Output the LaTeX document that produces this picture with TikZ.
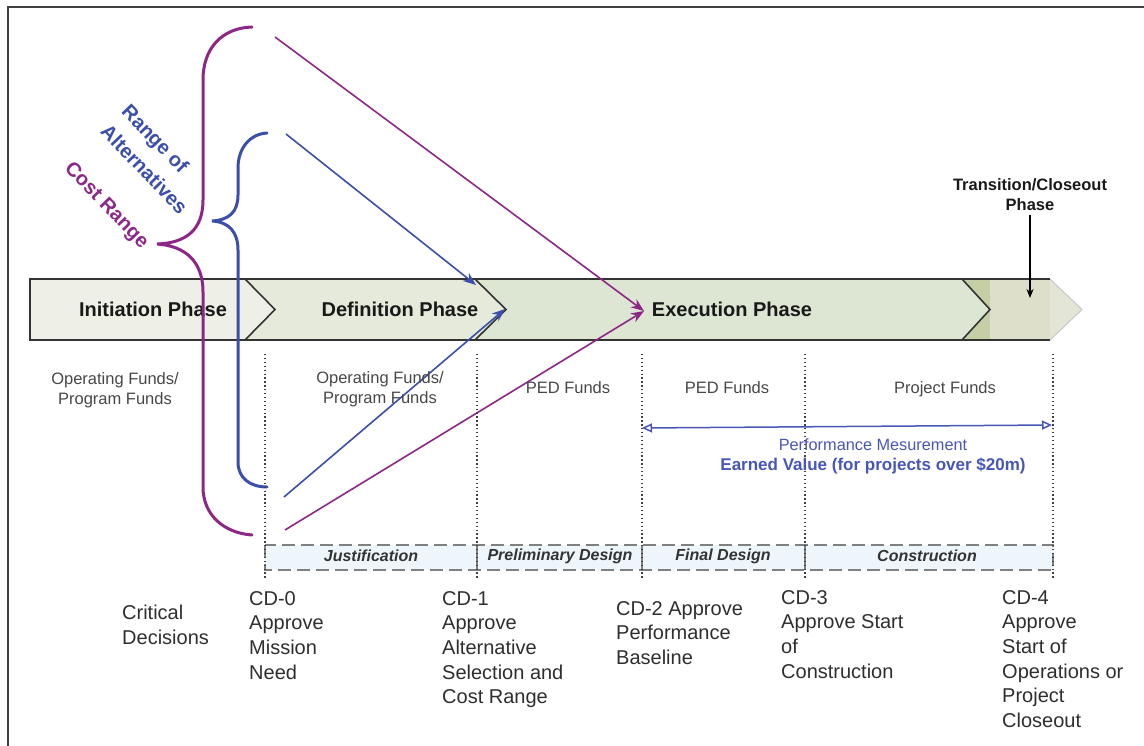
\documentclass[tikz,border=0pt]{standalone}
\usepackage{fontspec}
\setmainfont{Liberation Sans}
\usetikzlibrary{arrows.meta}
\definecolor{purp}{RGB}{140,38,135}
\definecolor{bluec}{RGB}{58,78,170}
\definecolor{pmblue}{RGB}{72,86,184}
\definecolor{initfill}{RGB}{238,240,232}
\definecolor{deffill}{RGB}{229,234,219}
\definecolor{exefill}{RGB}{221,230,211}
\definecolor{stripfill}{RGB}{197,207,166}
\definecolor{transfill}{RGB}{221,223,202}
\definecolor{tipfill}{RGB}{227,230,214}
\definecolor{segfill}{RGB}{238,246,251}
\begin{document}
\begin{tikzpicture}[x=1pt,y=-1pt,
  brace/.style={line width=3pt,line cap=round},
  ray/.style={line width=1.6pt,-{Stealth[length=13pt,width=10pt]}},
  phase/.style={font=\fontsize{20}{24}\selectfont\bfseries,text=black!90},
  funds/.style={font=\fontsize{16.5}{19.5}\selectfont,text=black!72,align=center},
  seg/.style={font=\fontsize{16}{18}\selectfont\bfseries\itshape,text=black!80},
  cd/.style={font=\fontsize{20}{24.7}\selectfont,text=black!82,align=left,anchor=north west,inner sep=0pt},
  dotline/.style={black!75,line width=1.3pt,dash pattern=on 1.3pt off 2.6pt},
  rangelbl/.style={font=\fontsize{20}{29}\selectfont\bfseries,rotate=-46,align=left,inner sep=0pt}]
\useasboundingbox (0,0) rectangle (1144,746);
% frame
\draw[line width=2.5pt,black!75] (8,746) -- (8,7) -- (1144,7);

% phase band
\fill[initfill] (30,279) -- (245,279) -- (275,309.5) -- (245,340) -- (30,340) -- cycle;
\fill[deffill] (245,279) -- (475,279) -- (506,309.5) -- (475,340) -- (245,340) -- (275,309.5) -- cycle;
\fill[exefill] (475,279) -- (962,279) -- (990,309.5) -- (962,340) -- (475,340) -- (506,309.5) -- cycle;
\fill[stripfill] (962,279) -- (990,279) -- (990,340) -- (962,340) -- (990,309.5) -- cycle;
\fill[transfill] (990,279) rectangle (1050,340);
\filldraw[tipfill,draw=black!22,line width=1pt] (1050,279) -- (1082,309.5) -- (1050,340);
\draw[line width=1.6pt,black!80] (1050,279) -- (30,279) -- (30,340) -- (1050,340);
\draw[line width=1.6pt,black!80] (245,279) -- (275,309.5) -- (245,340)
  (475,279) -- (506,309.5) -- (475,340) (962,279) -- (990,309.5) -- (962,340);
\node[phase] (init) at (153,309) {Initiation Phase};
\node[phase] (defn) at (400,309) {Definition Phase};
\node[phase] (exec) at (732,309) {Execution Phase};
\node[phase,font=\fontsize{16.5}{20}\selectfont\bfseries,align=center] (trans) at (1030,195) {Transition/Closeout\\Phase};
\coordinate (transpt) at (1030,298);
\draw[line width=1.1pt,-{Stealth[length=9pt,width=7pt]}] (trans.south) -- (transpt);

% braces
\draw[brace,purp] (252,27) .. controls (222,28) and (203,48) .. (203,80) -- (203,200)
  .. controls (203,230) and (186,243) .. (157,244) .. controls (186,246) and (203,262) .. (203,292)
  -- (203,487) .. controls (203,515) and (224,533) .. (252,535);
\draw[brace,bluec] (267,133) .. controls (250,134) and (238,148) .. (238,168) -- (238,195)
  .. controls (238,212) and (229,220) .. (212,221) .. controls (229,222) and (238,232) .. (238,250)
  -- (238,462) .. controls (238,478) and (250,487) .. (267,487);
\node[rangelbl,text=bluec] (alts) at (155,159) {Range of\\Alternatives};
\node[rangelbl,text=purp] (cost) at (106,206) {Cost Range};

% rays
\coordinate (pTop) at (275,37);
\coordinate (pBot) at (285,530);
\coordinate (bTop) at (286,134);
\coordinate (bBot) at (284,497);
\coordinate (exeIn) at (644,311);
\coordinate (defNotch) at (476,285);
\coordinate (defTip) at (505,309);
\draw[ray,purp] (pTop) -- (exeIn);
\draw[ray,purp] (pBot) -- (exeIn);
\draw[ray,bluec] (bTop) -- (defNotch);
\draw[ray,bluec] (bBot) -- (defTip);

% funds
\node[funds] (f1) at (115,390) {Operating Funds/\\Program Funds};
\node[funds] (f2) at (380,389) {Operating Funds/\\Program Funds};
\node[funds] (f3) at (568,388) {PED Funds};
\node[funds] (f4) at (727,388) {PED Funds};
\node[funds] (f5) at (945,389) {Project Funds};

% stages
\filldraw[fill=segfill,draw=black!50,line width=2.5pt,dash pattern=on 13pt off 6pt] (265,545) rectangle (1053,570);
\foreach \x in {477,642,805}
  \draw[black!50,line width=2pt] (\x,545) -- (\x,570);
\foreach \x/\n in {265/0,477/1,642/2,805/3,1053/4}
  \draw[dotline] (\x,354) coordinate (top\n) -- (\x,580) coordinate (bot\n);
\node[seg] (just) at (371,556) {Justification};
\node[seg] (prel) at (560,556) {Preliminary Design};
\node[seg] (fin) at (723,556) {Final Design};
\node[seg] (cons) at (927,556) {Construction};

% performance measurement
\coordinate (pmL) at (642,428);
\coordinate (pmR) at (1052,425);
\draw[pmblue,line width=1.5pt,{Triangle[open,length=10pt,width=9pt]}-{Triangle[open,length=10pt,width=9pt]}] (pmL) -- (pmR);
\node[font=\fontsize{16.3}{19}\selectfont,text=pmblue] (pm) at (873,445) {Performance Mesurement};
\node[font=\fontsize{17}{19}\selectfont\bfseries,text=pmblue] (ev) at (873,466) {Earned Value (for projects over \$20m)};

% critical decisions
\node[cd] (crit) at (122,605) {Critical\\Decisions};
\node[cd] (cd0) at (249,591) {CD-0\\Approve\\Mission\\Need};
\node[cd] (cd1) at (442,591) {CD-1\\Approve\\Alternative\\Selection and\\Cost Range};
\node[cd] (cd2) at (616,601) {CD-2 Approve\\Performance\\Baseline};
\node[cd] (cd3) at (781,590) {CD-3\\Approve Start\\of\\Construction};
\node[cd] (cd4) at (1002,590) {CD-4\\Approve\\Start of\\Operations or\\Project\\Closeout};
\end{tikzpicture}
\end{document}
